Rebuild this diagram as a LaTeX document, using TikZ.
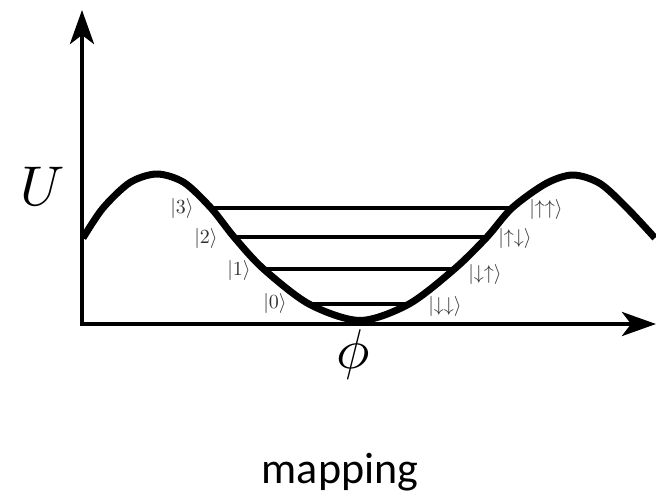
\documentclass[tikz,border=0pt]{standalone}
\usepackage{fontspec}
\newfontfamily\calib{Carlito}
\usetikzlibrary{arrows.meta}
\begin{document}
\begin{tikzpicture}[x=1pt,y=-1pt,
  axis/.style={line width=4.5pt,-{Stealth[length=34pt,width=24pt,inset=9pt]}},
  well/.style={line width=7pt,line join=round},
  level/.style={line width=4pt},
  ket/.style={scale=2,text=black!80,inner sep=0pt},
  big/.style={scale=5.6,inner sep=0pt}]
\useasboundingbox (0,0) rectangle (656,496);
% coordinates
\coordinate (O) at (82,324);
\coordinate (Ytip) at (82,10);
\coordinate (Xtip) at (656,324);
\coordinate (L3) at (211,208); \coordinate (R3) at (512,208);
\coordinate (L2) at (234,237); \coordinate (R2) at (487,237);
\coordinate (L1) at (263,268.5); \coordinate (R1) at (455,268.5);
\coordinate (L0) at (309,304); \coordinate (R0) at (409,304);
% levels
\draw[level] (L3) -- (R3);
\draw[level] (L2) -- (R2);
\draw[level] (L1) -- (R1);
\draw[level] (L0) -- (R0);
% axes
\draw[axis] (O) -- (Ytip);
\draw[axis] ([xshift=-2.25pt]O) -- (Xtip);
% well
\draw[well] plot[smooth,tension=0.5] coordinates {(83,238) (103,208) (130,182.5) (157,174) (184,182.5) (L3) (L2) (L1) (L0) (360,320.5) (R0) (R1) (R2) (R3) (546,183.5) (573,175) (600,183.5) (627,208) (655,238)};
% labels
\node[big] (U) at (43,186) {$U$};
\node[big] (phi) at (353,354) {$\phi$};
\node[ket] (k3) at (182,208) {$|3\rangle$};
\node[ket] (k2) at (206,238) {$|2\rangle$};
\node[ket] (k1) at (239,270) {$|1\rangle$};
\node[ket] (k0) at (275,303) {$|0\rangle$};
\node[ket] (kuu) at (546,209) {$|{\uparrow}{\uparrow}\rangle$};
\node[ket] (kud) at (515,238) {$|{\uparrow}{\downarrow}\rangle$};
\node[ket] (kdu) at (485,274) {$|{\downarrow}{\uparrow}\rangle$};
\node[ket] (kdd) at (445,306) {$|{\downarrow}{\downarrow}\rangle$};
\node[anchor=base,inner sep=0pt,font=\calib\fontsize{44}{48}\selectfont] (map) at (340,483) {mapping};
\end{tikzpicture}
\end{document}
